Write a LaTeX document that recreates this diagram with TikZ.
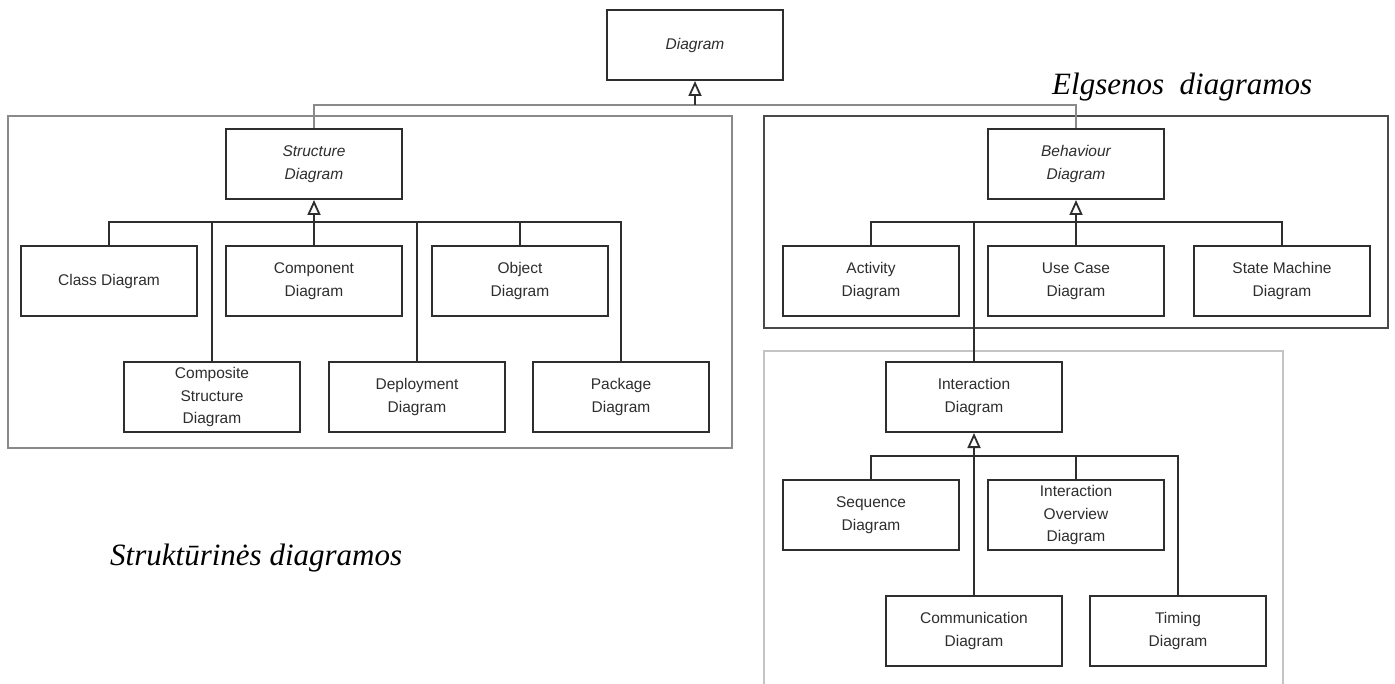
\documentclass[tikz,border=0pt]{standalone}
\usepackage{fontspec}
\setmainfont{Liberation Serif}
\setsansfont{Liberation Sans}
\usetikzlibrary{arrows.meta}
\definecolor{ink}{HTML}{2E2E2E}
\definecolor{framegray}{HTML}{8A8A8A}
\definecolor{framedark}{HTML}{4A4A4A}
\definecolor{framelight}{HTML}{C4C4C4}
\tikzset{
  umlbox/.style={draw=ink, line width=2pt, fill=white, minimum width=176pt, minimum height=70pt,
    inner sep=0pt, align=center, font=\sffamily\fontsize{15.5pt}{22.5pt}\selectfont, text=ink},
  abstractbox/.style={umlbox, font=\sffamily\itshape\fontsize{15.5pt}{22.5pt}\selectfont},
  link/.style={draw=ink, line width=1.8pt},
  gen/.style={link, -{Triangle[open, width=13pt, length=15pt, fill=white]}},
  topbus/.style={draw=framegray, line width=2.6pt},
  caption/.style={font=\itshape\fontsize{31pt}{36pt}\selectfont, text=black, inner sep=0pt, anchor=base west}
}
\begin{document}
\begin{tikzpicture}[x=1pt, y=-1pt]
\useasboundingbox (0,0) rectangle (1395,684);
\fill[white] (0,0) rectangle (1395,684);

% frames
\draw[framegray, line width=2.4pt] (8,116) rectangle (732,448);
\draw[framedark, line width=2.2pt] (764,116) rectangle (1388,328);
\draw[framelight, line width=1.8pt] (764,690) -- (764,351) -- (1283,351) -- (1283,690);

% captions
\node[caption] (elg) at (1052,95) {Elgsenos\ \ diagramos};
\node[caption] (str) at (110,565) {Struktūrinės diagramos};

% nodes
\node[abstractbox] (diag) at (695,45) {Diagram};
\node[abstractbox] (struct) at (314,164) {Structure\\Diagram};
\node[umlbox] (class) at (109,281) {Class Diagram};
\node[umlbox] (comp) at (314,281) {Component\\Diagram};
\node[umlbox] (obj) at (520,281) {Object\\Diagram};
\node[umlbox] (compo) at (212,397) {Composite\\Structure\\Diagram};
\node[umlbox] (deploy) at (417,397) {Deployment\\Diagram};
\node[umlbox] (pack) at (621,397) {Package\\Diagram};

\node[abstractbox] (behav) at (1076,164) {Behaviour\\Diagram};
\node[umlbox] (act) at (871,281) {Activity\\Diagram};
\node[umlbox] (usecase) at (1076,281) {Use Case\\Diagram};
\node[umlbox] (sm) at (1282,281) {State Machine\\Diagram};

\node[umlbox] (inter) at (974,397) {Interaction\\Diagram};
\node[umlbox] (seq) at (871,515) {Sequence\\Diagram};
\node[umlbox] (io) at (1076,515) {Interaction\\Overview\\Diagram};
\node[umlbox] (commu) at (974,631) {Communication\\Diagram};
\node[umlbox] (timing) at (1178,631) {Timing\\Diagram};

% bus points
\coordinate (tbus) at (695,105);
\coordinate (sbus) at (314,222);
\coordinate (bbus) at (1076,222);
\coordinate (ibus) at (974,456);

% top level
\draw[topbus] (struct.north) |- (tbus);
\draw[topbus] (behav.north) |- (tbus);
\draw[gen] (tbus) -- (diag.south);

% structure
\draw[link] (class.north) |- (sbus);
\draw[link] (compo.north) |- (sbus);
\draw[link] (comp.north) -- (sbus);
\draw[link] (obj.north) |- (sbus);
\draw[link] (deploy.north) |- (sbus);
\draw[link] (pack.north) |- (sbus);
\draw[gen] (sbus) -- (struct.south);

% behaviour
\draw[link] (act.north) |- (bbus);
\draw[link] (usecase.north) -- (bbus);
\draw[link] (sm.north) |- (bbus);
\draw[link] (inter.north) |- (bbus);
\draw[gen] (bbus) -- (behav.south);

% interaction
\draw[link] (seq.north) |- (ibus);
\draw[link] (io.north) |- (ibus);
\draw[link] (commu.north) -- (ibus);
\draw[link] (timing.north) |- (ibus);
\draw[gen] (ibus) -- (inter.south);
\end{tikzpicture}
\end{document}
